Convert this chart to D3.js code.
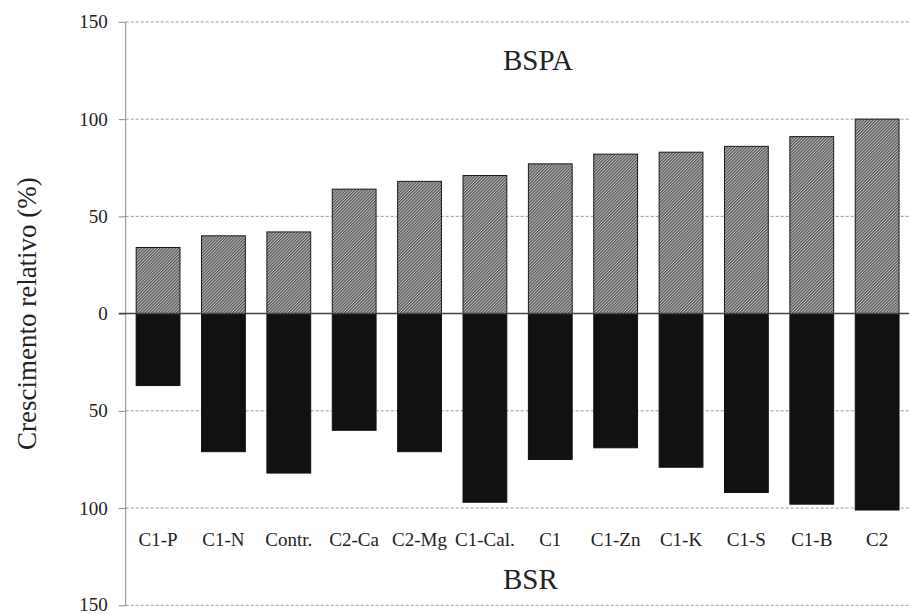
<!DOCTYPE html>
<html>
<head>
<meta charset="utf-8">
<script src="https://cdn.jsdelivr.net/npm/d3@7"></script>
<style>
  html, body { margin: 0; padding: 0; background: #fff; }
  svg text { font-family: "Liberation Serif", "Times New Roman", "DejaVu Serif", serif; }
</style>
</head>
<body>
<svg id="chart" width="909" height="614"></svg>
<script>
// Relative growth (%) per treatment: shoot dry biomass (BSPA, up) and root dry biomass (BSR, down)
const categories = ["C1-P", "C1-N", "Contr.", "C2-Ca", "C2-Mg", "C1-Cal.", "C1", "C1-Zn", "C1-K", "C1-S", "C1-B", "C2"];
const bspa = [34, 40, 42, 64, 68, 71, 77, 82, 83, 86, 91, 100];
const bsr = [37, 71, 82, 60, 71, 97, 75, 69, 79, 92, 98, 101];
const yTicks = [-150, -100, -50, 0, 50, 100, 150];

const SERIF = "'Liberation Serif', 'Times New Roman', 'DejaVu Serif', serif";
const svg = d3.select("#chart");

const x = d3.scaleBand()
  .domain(categories)
  .range([125.7, 909.5])
  .paddingInner(0.33)
  .paddingOuter(0.16);

const y = d3.scaleLinear()
  .domain([-150, 150])
  .range([605.3, 21.9]);

const x0 = 125.7, x1 = 909;

// fine diagonal hatch used for the shoot bars
const defs = svg.append("defs");
const pat = defs.append("pattern")
  .attr("id", "hatch")
  .attr("patternUnits", "userSpaceOnUse")
  .attr("width", 2.2).attr("height", 2.2)
  .attr("patternTransform", "rotate(45)");
pat.append("rect").attr("width", 2.2).attr("height", 2.2).attr("fill", "#b4b4b4");
pat.append("rect").attr("width", 1.1).attr("height", 2.2).attr("fill", "#555");

// dashed gridlines
svg.append("g")
  .selectAll("line")
  .data(yTicks.filter(d => d !== 0))
  .join("line")
  .attr("x1", x0).attr("x2", x1)
  .attr("y1", d => y(d)).attr("y2", d => y(d))
  .attr("stroke", "#9a9a9a")
  .attr("stroke-width", 1)
  .attr("stroke-dasharray", "3,2");

// y axis
const yAxis = d3.axisLeft(y)
  .tickValues(yTicks)
  .tickFormat(d => Math.abs(d))
  .tickSize(7)
  .tickPadding(11);

const gAxis = svg.append("g")
  .attr("transform", `translate(${x0},0)`)
  .call(yAxis)
  .attr("font-family", SERIF)
  .attr("font-size", 19);
gAxis.select(".domain").attr("stroke", "#8a8a8a").attr("d", `M0,${y(150)}V${y(-150)}`);
gAxis.selectAll(".tick line").attr("stroke", "#8a8a8a");
gAxis.selectAll(".tick text")
  .attr("fill", "#222")
  .attr("dy", (d) => d === -150 ? "0.28em" : "0.32em")
  .style("font-family", SERIF)
  .style("font-size", "19px");

// shoot bars (positive)
svg.append("g")
  .selectAll("rect")
  .data(categories)
  .join("rect")
  .attr("x", d => x(d))
  .attr("width", x.bandwidth())
  .attr("y", (d, i) => y(bspa[i]))
  .attr("height", (d, i) => y(0) - y(bspa[i]))
  .attr("fill", "url(#hatch)")
  .attr("stroke", "#1a1a1a")
  .attr("stroke-width", 1);

// root bars (negative)
svg.append("g")
  .selectAll("rect")
  .data(categories)
  .join("rect")
  .attr("x", d => x(d))
  .attr("width", x.bandwidth())
  .attr("y", y(0))
  .attr("height", (d, i) => y(-bsr[i]) - y(0))
  .attr("fill", "#111")
  .attr("stroke", "#111")
  .attr("stroke-width", 1);

// zero line
svg.append("line")
  .attr("x1", x0 - 7).attr("x2", x1)
  .attr("y1", y(0)).attr("y2", y(0))
  .attr("stroke", "#444")
  .attr("stroke-width", 1.5);

// category labels
svg.append("g")
  .selectAll("text")
  .data(categories)
  .join("text")
  .attr("x", d => x(d) + x.bandwidth() / 2)
  .attr("y", 546)
  .attr("text-anchor", "middle")
  .attr("fill", "#222")
  .style("font-family", SERIF)
  .style("font-size", "19px")
  .text(d => d);

// panel labels
svg.append("text")
  .attr("x", 503).attr("y", 70)
  .attr("fill", "#222")
  .style("font-family", SERIF)
  .style("font-size", "29px")
  .text("BSPA");
svg.append("text")
  .attr("x", 503).attr("y", 589)
  .attr("fill", "#222")
  .style("font-family", SERIF)
  .style("font-size", "29px")
  .text("BSR");

// y axis title
svg.append("text")
  .attr("transform", `translate(36,${y(0)}) rotate(-90)`)
  .attr("text-anchor", "middle")
  .attr("fill", "#222")
  .style("font-family", SERIF)
  .style("font-size", "27px")
  .text("Crescimento relativo (%)");
</script>
</body>
</html>
